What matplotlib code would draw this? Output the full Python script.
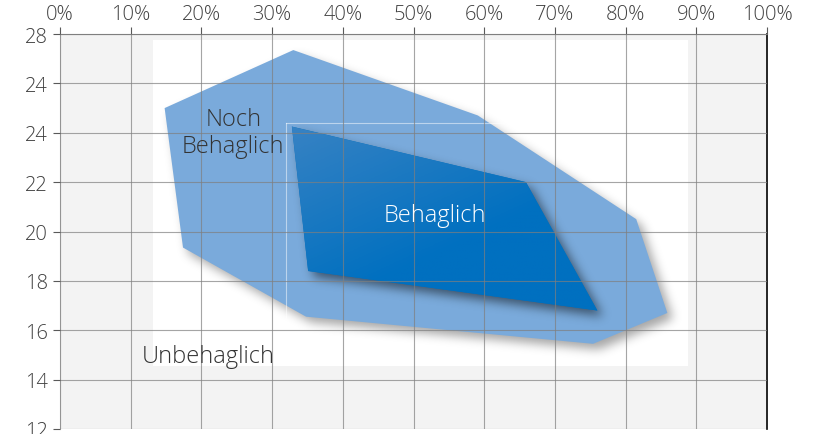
import numpy as np
import matplotlib
matplotlib.use("Agg")
import matplotlib.pyplot as plt
from matplotlib.patches import Polygon, Rectangle
from matplotlib.path import Path

plt.rcParams['font.family'] = ['Open Sans', 'DejaVu Sans']

# relative humidity (%) / temperature (°C) of the comfort zones
outer_x = [14.8, 33.0, 59.1, 81.5, 85.9, 75.4, 34.8, 17.4]
outer_y = [25.0, 27.35, 24.7, 20.5, 16.7, 15.45, 16.55, 19.35]
inner_x = [32.8, 65.9, 76.0, 35.1]
inner_y = [24.25, 22.0, 16.8, 18.4]

x_ticks = np.arange(0, 101, 10)
x_labels = [f"{v}%" for v in x_ticks]
y_ticks = np.arange(12, 29, 2)
y_labels = ["12", "14", "16", "18", "20", "22", "24", "24", "28"]  # as printed in the original

fig = plt.figure(figsize=(8.16, 4.35), dpi=100)
ax = fig.add_axes([0.0735, 0.0115, 0.8665, 0.908])
ax.set_xlim(0, 100)
ax.set_ylim(12, 28)
ax.set_facecolor('#f3f3f3')

# white inner field
ax.add_patch(Rectangle((13.2, 14.55), 75.6, 13.2, facecolor='white', edgecolor='none', zorder=0.5))

# pixel grid for soft shadows
nx, ny = 707, 395
px = np.linspace(0, 100, nx)
py = np.linspace(28, 12, ny)
PX, PY = np.meshgrid(px, py)
pts_grid = np.column_stack([PX.ravel(), PY.ravel()])


def blur(a, sigma):
    r = int(3 * sigma)
    k = np.exp(-0.5 * (np.arange(-r, r + 1) / sigma) ** 2)
    k /= k.sum()
    a = np.apply_along_axis(lambda v: np.convolve(v, k, mode='same'), 1, a)
    a = np.apply_along_axis(lambda v: np.convolve(v, k, mode='same'), 0, a)
    return a


def shadowed(xs, ys, color, z, dx=5, dy=6, sigma=5, strength=0.45):
    pts = np.column_stack([xs, ys])
    mask = Path(pts).contains_points(pts_grid).reshape(ny, nx).astype(float)
    mask = np.roll(np.roll(mask, dy, axis=0), dx, axis=1)
    sh = blur(mask, sigma) * strength
    rgba = np.zeros((ny, nx, 4))
    rgba[..., 3] = sh
    ax.imshow(rgba, extent=[0, 100, 12, 28], aspect='auto', zorder=z - 0.1, interpolation='bilinear')
    p = Polygon(pts, closed=True, facecolor=color, edgecolor='none', zorder=z)
    ax.add_patch(p)
    return p


shadowed(outer_x, outer_y, '#7aaadb', 1, strength=0.35)
inner = shadowed(inner_x, inner_y, '#0070c0', 2, strength=0.5)

# soft gradient on the inner zone
grad = np.linspace(0, 1, 256)
gx, gy = np.meshgrid(grad, grad)
g = np.clip((gx * 0.7 + gy * 1.0), 0, 1)
cmap = matplotlib.colors.LinearSegmentedColormap.from_list('b', ['#3f85c4', '#0070c0'])
im = ax.imshow(g, extent=[30, 78, 16, 25], origin='upper', cmap=cmap, aspect='auto', zorder=2.1)
im.set_clip_path(inner)

# faint frame line behind inner zone
ax.plot([32.0, 32.0], [14.6, 24.4], color='white', lw=0.8, alpha=0.5, zorder=1.5)
ax.plot([32.0, 64.5], [24.4, 24.4], color='white', lw=0.8, alpha=0.5, zorder=1.5)

ax.set_xticks(x_ticks)
ax.set_xticklabels(x_labels)
ax.set_yticks(y_ticks)
ax.set_yticklabels(y_labels)
ax.xaxis.tick_top()
ax.tick_params(axis='both', colors='#595959', labelcolor='#404040', labelsize=14.5, length=5, width=0.8)
ax.tick_params(axis='x', pad=2)
for lbl in ax.get_xticklabels() + ax.get_yticklabels():
    lbl.set_fontweight('light')
ax.grid(True, color='#7f7f7f', lw=0.8, alpha=0.7, zorder=3)
ax.set_axisbelow(False)
ax.spines['bottom'].set_visible(False)
ax.spines['left'].set_color('#c8c8c8')
ax.spines['top'].set_color('#7f7f7f')
ax.spines['right'].set_color('black')
ax.spines['right'].set_linewidth(1.2)

ax.text(24.5, 24.0, "Noch\nBehaglich", ha='center', va='center', fontsize=17, fontweight='light',
        color='#333333', linespacing=1.15, zorder=4)
ax.text(53.0, 20.65, "Behaglich", ha='center', va='center', fontsize=17, fontweight='light',
        color='white', zorder=4)
ax.text(20.9, 14.95, "Unbehaglich", ha='center', va='center', fontsize=17, fontweight='light',
        color='#333333', zorder=4)

fig.savefig('out.png', dpi=100)
